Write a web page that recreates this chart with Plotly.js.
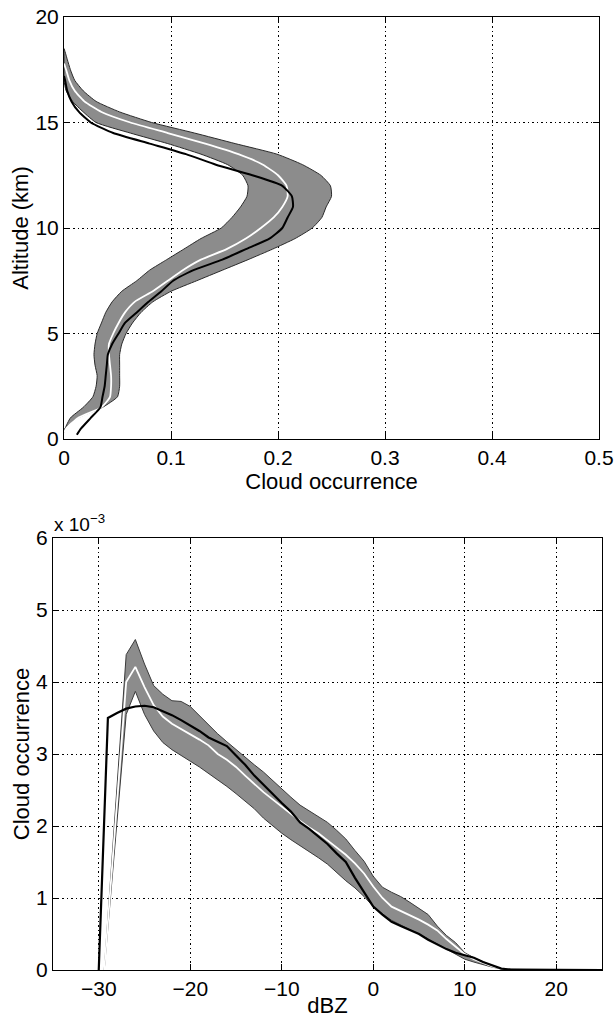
<!DOCTYPE html>
<html>
<head>
<meta charset="utf-8">
<script src="https://cdn.plot.ly/plotly-3.0.1.min.js"></script>
<style>
html,body{margin:0;padding:0;background:#fff;}
#chart{width:614px;height:1018px;}
</style>
</head>
<body>
<div id="chart"></div>
<script>
// ---------- Top panel: cloud occurrence vs altitude ----------
const bandAlt = [18.5, 18, 17.5, 17, 16.5, 16, 15.5, 15, 14.5, 14, 13.5, 13, 12.5, 12, 11.5, 11, 10.5, 10, 9.5, 9, 8.5, 8, 7.5, 7, 6.5, 6, 5.5, 5, 4.5, 4, 3.5, 3, 2.5, 2, 1.5, 1, 0.5, 0.3];
const bandHigh = [0, 0.003, 0.006, 0.010, 0.018, 0.030, 0.052, 0.082, 0.122, 0.160, 0.199, 0.223, 0.240, 0.249, 0.250, 0.245, 0.241, 0.232, 0.216, 0.195, 0.172, 0.148, 0.124, 0.100, 0.083, 0.072, 0.064, 0.058, 0.054, 0.052, 0.052, 0.052, 0.052, 0.050, 0.036, 0.013, 0.001, 0];
const bandLow = [0, 0, 0, 0, 0.002, 0.008, 0.018, 0.030, 0.062, 0.097, 0.128, 0.153, 0.167, 0.172, 0.171, 0.165, 0.157, 0.147, 0.128, 0.112, 0.096, 0.080, 0.068, 0.054, 0.045, 0.039, 0.035, 0.031, 0.029, 0.028, 0.029, 0.031, 0.030, 0.027, 0.018, 0.006, 0.001, 0];

const meanAlt = [17.8, 17.5, 17, 16.5, 16, 15.5, 15, 14.5, 14, 13.5, 13, 12.5, 12, 11.5, 11, 10.5, 10, 9.5, 9, 8.5, 8, 7.5, 7, 6.5, 6, 5.5, 5, 4.5, 4, 3.5, 3, 2.5, 2, 1.5, 1, 0.5, 0.3];
const meanOcc = [0, 0.002, 0.005, 0.010, 0.019, 0.035, 0.062, 0.097, 0.132, 0.163, 0.186, 0.200, 0.208, 0.209, 0.204, 0.196, 0.184, 0.170, 0.152, 0.128, 0.111, 0.097, 0.083, 0.066, 0.057, 0.051, 0.046, 0.042, 0.042, 0.043, 0.044, 0.044, 0.043, 0.035, 0.013, 0.002, 0];

const refAlt = [17.2, 17, 16.5, 16, 15.5, 15, 14.5, 14, 13.5, 13, 12.5, 12, 11.5, 11, 10.5, 10, 9.5, 9, 8.5, 8, 7.5, 7, 6.5, 6, 5.5, 5, 4.5, 4, 3.5, 3, 2.5, 2, 1.5, 1, 0.5, 0.2];
const refOcc = [0, 0.001, 0.003, 0.007, 0.014, 0.025, 0.046, 0.080, 0.114, 0.142, 0.176, 0.204, 0.213, 0.214, 0.209, 0.204, 0.192, 0.170, 0.148, 0.121, 0.102, 0.091, 0.079, 0.068, 0.057, 0.051, 0.045, 0.041, 0.040, 0.039, 0.038, 0.036, 0.034, 0.025, 0.016, 0.012];

// ---------- Bottom panel: cloud occurrence (x 10^-3) vs dBZ ----------
const dbzBand = [-29.4, -27, -26, -25, -24, -23, -22, -21, -20, -19, -18, -17, -16, -15, -14, -13, -12, -11, -10, -9, -8, -7, -6, -5, -4, -3, -2, -1, 0, 1, 2, 3, 4, 5, 6, 7, 8, 9, 10, 11, 12, 13, 14, 15, 20, 25];
const dbzHigh = [0, 4.38, 4.59, 4.25, 3.95, 3.83, 3.74, 3.73, 3.66, 3.53, 3.41, 3.28, 3.17, 3.06, 2.95, 2.85, 2.75, 2.63, 2.52, 2.40, 2.29, 2.21, 2.14, 2.05, 1.94, 1.82, 1.66, 1.51, 1.30, 1.15, 1.08, 1.02, 0.94, 0.86, 0.77, 0.61, 0.48, 0.38, 0.24, 0.17, 0.11, 0.06, 0.02, 0.008, 0.004, 0];
const dbzLow = [0, 3.55, 3.87, 3.55, 3.32, 3.16, 3.06, 2.98, 2.90, 2.82, 2.74, 2.64, 2.55, 2.45, 2.35, 2.24, 2.11, 2.00, 1.90, 1.81, 1.72, 1.64, 1.56, 1.47, 1.36, 1.24, 1.14, 1.02, 0.88, 0.78, 0.69, 0.62, 0.56, 0.50, 0.43, 0.37, 0.30, 0.22, 0.15, 0.11, 0.07, 0.04, 0.015, 0.004, 0.002, 0];
const dbzMean = [0, 4.00, 4.21, 3.93, 3.68, 3.52, 3.42, 3.35, 3.28, 3.20, 3.12, 3.00, 2.92, 2.82, 2.70, 2.58, 2.47, 2.37, 2.27, 2.16, 2.07, 1.98, 1.90, 1.80, 1.70, 1.60, 1.48, 1.34, 1.16, 1.00, 0.88, 0.82, 0.77, 0.70, 0.63, 0.55, 0.43, 0.32, 0.22, 0.15, 0.10, 0.05, 0.02, 0.006, 0.003, 0];

const dbzRef = [-30, -29, -28, -27, -26, -25, -24, -23, -22, -21, -20, -19, -18, -17, -16, -15, -14, -13, -12, -11, -10, -9, -8, -7, -6, -5, -4, -3, -2, -1, 0, 1, 2, 3, 4, 5, 6, 7, 8, 9, 10, 11, 12, 13, 14, 15, 20, 25];
const dbzRefVal = [0, 3.50, 3.57, 3.63, 3.66, 3.67, 3.65, 3.60, 3.54, 3.47, 3.40, 3.32, 3.23, 3.17, 3.11, 2.98, 2.85, 2.70, 2.57, 2.44, 2.32, 2.20, 2.05, 1.96, 1.86, 1.75, 1.62, 1.50, 1.28, 1.07, 0.88, 0.77, 0.67, 0.61, 0.56, 0.50, 0.42, 0.35, 0.29, 0.24, 0.21, 0.17, 0.11, 0.06, 0.02, 0.005, 0.002, 0];

const topXTicks = [0, 0.1, 0.2, 0.3, 0.4, 0.5];
const topYTicks = [0, 5, 10, 15, 20];
const botXTicks = [-30, -20, -10, 0, 10, 20];
const botYTicks = [0, 1, 2, 3, 4, 5, 6];

// ---------- build ----------
const W = 614, H = 1018;
const FONT = 'Liberation Sans, Arial, Helvetica, sans-serif';
const bandFill = '#8c8c8c';
const edgeCol = '#2a2a2a';
const SMOOTH = { shape: 'spline', smoothing: 0.5 };

function polyX(hi, lo) { return hi.concat(lo.slice().reverse()); }

const traces = [
  { x: polyX(bandHigh, bandLow), y: bandAlt.concat(bandAlt.slice().reverse()),
    type: 'scatter', mode: 'lines', fill: 'toself', fillcolor: bandFill,
    line: Object.assign({ color: edgeCol, width: 1 }, SMOOTH), xaxis: 'x', yaxis: 'y', hoverinfo: 'skip' },
  { x: meanOcc, y: meanAlt, type: 'scatter', mode: 'lines',
    line: Object.assign({ color: '#ffffff', width: 1.8 }, SMOOTH), xaxis: 'x', yaxis: 'y' },
  { x: refOcc, y: refAlt, type: 'scatter', mode: 'lines',
    line: Object.assign({ color: '#000000', width: 2 }, SMOOTH), xaxis: 'x', yaxis: 'y' },

  { x: dbzBand.concat(dbzBand.slice().reverse()), y: dbzHigh.concat(dbzLow.slice().reverse()),
    type: 'scatter', mode: 'lines', fill: 'toself', fillcolor: bandFill,
    line: { color: '#3a3a3a', width: 1 }, xaxis: 'x2', yaxis: 'y2', hoverinfo: 'skip' },
  { x: dbzBand, y: dbzMean, type: 'scatter', mode: 'lines',
    line: { color: '#ffffff', width: 1.8 }, xaxis: 'x2', yaxis: 'y2' },
  { x: dbzRef, y: dbzRefVal, type: 'scatter', mode: 'lines',
    line: { color: '#000000', width: 2.2 }, xaxis: 'x2', yaxis: 'y2' }
];

function axisBase() {
  return {
    showline: true, linecolor: '#000', linewidth: 1, mirror: 'ticks',
    ticks: 'inside', ticklen: 6, tickcolor: '#000', tickwidth: 1,
    showgrid: true, gridcolor: '#000', gridwidth: 1, griddash: '1.5px,3px',
    zeroline: false, automargin: false,
    tickfont: { family: FONT, size: 21, color: '#000' }
  };
}

const layout = {
  width: W, height: H,
  margin: { l: 0, r: 0, t: 0, b: 0 },
  paper_bgcolor: '#fff', plot_bgcolor: '#fff',
  showlegend: false,
  font: { family: FONT, color: '#000' },
  xaxis: Object.assign(axisBase(), {
    domain: [64 / W, 599 / W], range: [0, 0.5], tickvals: topXTicks, anchor: 'y',
    title: { text: 'Cloud occurrence', font: { family: FONT, size: 22 }, standoff: 0 }
  }),
  yaxis: Object.assign(axisBase(), {
    domain: [1 - 439 / H, 1 - 17 / H], range: [0, 20], tickvals: topYTicks, anchor: 'x',
    title: { text: 'Altitude (km)', font: { family: FONT, size: 22 }, standoff: 0 }
  }),
  xaxis2: Object.assign(axisBase(), {
    domain: [53 / W, 602 / W], range: [-35, 25], tickvals: botXTicks, anchor: 'y2',
    title: { text: 'dBZ', font: { family: FONT, size: 22 }, standoff: 0 }
  }),
  yaxis2: Object.assign(axisBase(), {
    domain: [1 - 970 / H, 1 - 538 / H], range: [0, 6], tickvals: botYTicks, anchor: 'x2',
    title: { text: 'Cloud occurrence', font: { family: FONT, size: 22 }, standoff: 0 }
  }),
  annotations: [
    { xref: 'paper', yref: 'paper', x: 52 / W, y: 1 - 523 / H, xanchor: 'left', yanchor: 'middle',
      text: 'x 10<sup>−3</sup>', showarrow: false, font: { family: FONT, size: 19, color: '#000' } }
  ]
};

Plotly.newPlot('chart', traces, layout, { staticPlot: true, displayModeBar: false });
</script>
</body>
</html>
